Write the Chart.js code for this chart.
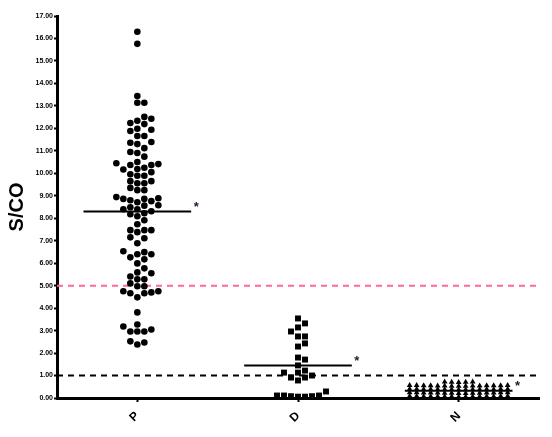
<!DOCTYPE html>
<html>
<head>
<meta charset="utf-8">
<script src="https://cdn.jsdelivr.net/npm/chart.js@4"></script>
<style>
  body { margin: 0; background: #fff; }
  canvas { display: block; }
</style>
</head>
<body>
<canvas id="dotChart" width="552" height="437"></canvas>
<script>
// 分组
const groups = ['P', 'D', 'N'];

// 各组 S/CO 值
const valuesP = [16.30, 15.76, 13.44, 13.14, 13.14, 12.51, 12.43, 12.34, 12.24, 12.19,
  11.98, 11.94, 11.88, 11.66, 11.66, 11.39, 11.36, 11.30, 11.12, 10.95, 10.90, 10.74,
  10.50, 10.45, 10.41, 10.37, 10.37, 10.25, 10.19, 10.17, 10.05, 9.96, 9.89, 9.89,
  9.65, 9.65, 9.56, 9.56, 9.35, 9.25, 9.25, 8.94, 8.89, 8.86, 8.86, 8.80, 8.76, 8.71,
  8.58, 8.56, 8.49, 8.40, 8.40, 8.31, 8.22, 8.18, 8.09, 7.91, 7.73, 7.47, 7.47, 7.47,
  7.38, 7.15, 7.11, 6.89, 6.53, 6.49, 6.40, 6.40, 6.26, 6.17, 5.99, 5.77, 5.59, 5.55,
  5.41, 5.28, 5.28, 5.10, 4.97, 4.97, 4.75, 4.75, 4.70, 4.66, 4.66, 4.48, 3.81, 3.27,
  3.18, 3.05, 2.96, 2.96, 2.96, 2.52, 2.47, 2.38];
const valuesD = [3.54, 3.32, 3.14, 2.96, 2.74, 2.74, 2.43, 2.29, 1.80, 1.71, 1.45,
  1.22, 1.13, 1.13, 1.00, 0.91, 0.91, 0.78, 0.29, 0.11, 0.11, 0.08, 0.06, 0.06, 0.08, 0.11];
const valuesN = [0.70, 0.71, 0.71, 0.72, 0.72,
  0.53, 0.53, 0.53, 0.54, 0.54, 0.54, 0.54, 0.55, 0.55, 0.55, 0.55, 0.55, 0.56, 0.56, 0.56,
  0.37, 0.37, 0.38, 0.38, 0.38, 0.38, 0.39, 0.39, 0.39, 0.39, 0.39, 0.40, 0.40, 0.40, 0.40,
  0.21, 0.21, 0.22, 0.22, 0.22, 0.22, 0.23, 0.23, 0.23, 0.23, 0.23, 0.24, 0.24, 0.24, 0.24,
  0.05, 0.05, 0.06, 0.06, 0.06, 0.06, 0.07, 0.07, 0.07, 0.07, 0.07, 0.08, 0.08, 0.08, 0.08];

// 中位线
const medians = [8.30, 1.45, 0.32];

// 参考线
const cutoffPink = 5.0;
const cutoffBlack = 1.0;

// y 轴刻度
const yMin = 0, yMax = 17, yStep = 1;

const FONT = '"Liberation Sans", Arial, sans-serif';

// 蜂群排列：按列放点，同列内太近就往旁边挪
function swarm(values, center, colPx, gapPx, xs, ys) {
  const dxPerPx = 1 / (xs.getPixelForValue(1) - xs.getPixelForValue(0));
  const dyPerPx = 1 / (ys.getPixelForValue(0) - ys.getPixelForValue(1));
  const gap = gapPx * dyPerPx;
  const placed = [];
  return values.slice().sort((a, b) => a - b).map(v => {
    let k = 0, col = 0;
    while (placed.some(p => p.col === col && Math.abs(p.y - v) < gap)) {
      k++;
      col = k % 2 ? (k + 1) / 2 : -k / 2;
    }
    placed.push({ col, y: v });
    return { x: center + col * colPx * dxPerPx, y: v };
  });
}

const HALF = 0.335;
const medianLine = (i) => ({
  data: [{ x: i - HALF, y: medians[i] }, { x: i + HALF, y: medians[i] }],
  showLine: true, borderColor: '#000', borderWidth: 2, pointRadius: 0, order: 5
});

// 星号
const starPlugin = {
  id: 'stars',
  afterDatasetsDraw(chart) {
    const { ctx, scales: { x, y } } = chart;
    ctx.save();
    ctx.font = 'bold 13px ' + FONT;
    ctx.fillStyle = '#1a1a33';
    ctx.textAlign = 'center';
    ctx.textBaseline = 'alphabetic';
    medians.forEach((m, i) => {
      ctx.fillText('*', x.getPixelForValue(i + HALF) + 5, y.getPixelForValue(m) - 0.5);
    });
    ctx.restore();
  }
};

const ctx = document.getElementById('dotChart').getContext('2d');
const chart = new Chart(ctx, {
  type: 'scatter',
  data: {
    datasets: [
      { data: [], pointStyle: 'circle', pointRadius: 3.3, backgroundColor: '#000', borderWidth: 0, order: 1, clip: false },
      { data: [], pointStyle: 'rect', pointRadius: 4.2, backgroundColor: '#000', borderWidth: 0, order: 1, clip: false },
      { data: [], pointStyle: 'triangle', pointRadius: 3.3, backgroundColor: '#000', borderWidth: 0, order: 1, clip: false },
      medianLine(0), medianLine(1), medianLine(2),
      {
        data: [{ x: -0.5, y: cutoffPink }, { x: 2.5, y: cutoffPink }],
        showLine: true, borderColor: '#ff6699', borderWidth: 2, borderDash: [6, 5], pointRadius: 0, order: 10
      },
      {
        data: [{ x: -0.5, y: cutoffBlack }, { x: 2.5, y: cutoffBlack }],
        showLine: true, borderColor: '#000', borderWidth: 2, borderDash: [6, 5], pointRadius: 0, order: 10
      }
    ]
  },
  options: {
    responsive: false,
    animation: false,
    layout: { padding: { top: 16, right: 13, left: 0, bottom: 0 } },
    plugins: { legend: { display: false }, tooltip: { enabled: false } },
    scales: {
      x: {
        type: 'linear',
        min: -0.5,
        max: 2.5,
        afterBuildTicks: s => { s.ticks = groups.map((g, i) => ({ value: i })); },
        afterFit: s => { s.height = 39; },
        ticks: {
          callback: v => groups[v],
          minRotation: 45,
          maxRotation: 45,
          padding: 7,
          color: '#000',
          font: { family: FONT, size: 12, weight: 'bold' }
        },
        grid: { drawOnChartArea: false, tickLength: 4, tickWidth: 2, color: '#000' },
        border: { width: 3, color: '#000' }
      },
      y: {
        min: yMin,
        max: yMax,
        afterFit: s => { s.width = 57; },
        ticks: {
          stepSize: yStep,
          callback: v => v.toFixed(2),
          padding: 1,
          color: '#000',
          font: { family: FONT, size: 7, weight: 'bold' }
        },
        grid: { drawOnChartArea: false, tickLength: 3, tickWidth: 2, color: '#000' },
        border: { width: 3, color: '#000' },
        title: {
          display: true,
          text: 'S/CO',
          color: '#000',
          padding: { top: 5, bottom: 0 },
          font: { family: FONT, size: 20, weight: 'bold' }
        }
      }
    }
  },
  plugins: [starPlugin]
});

// 排好点位后再画
const xs = chart.scales.x, ys = chart.scales.y;
chart.data.datasets[0].data = swarm(valuesP, 0, 7, 6.5, xs, ys);
chart.data.datasets[1].data = swarm(valuesD, 1, 7, 6.2, xs, ys);
chart.data.datasets[2].data = swarm(valuesN, 2, 7, 2.7, xs, ys);
chart.update('none');
</script>
</body>
</html>
